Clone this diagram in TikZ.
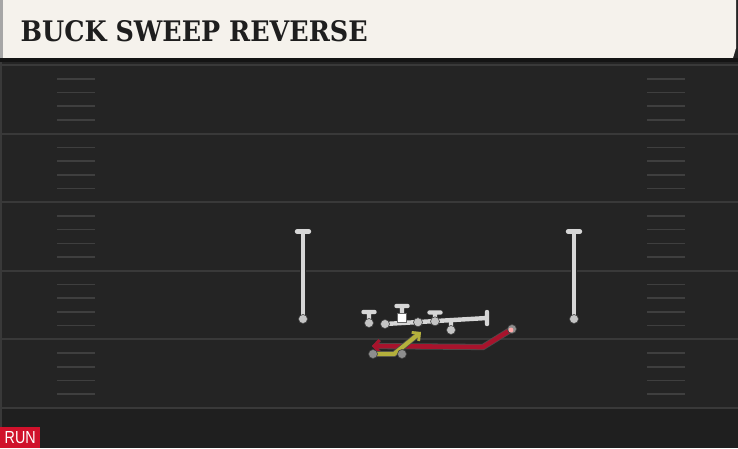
\documentclass[tikz,border=0pt]{standalone}
\usepackage{fontspec}
\usepackage{graphicx}
\usetikzlibrary{arrows.meta}
\newfontfamily\titlefont{DejaVu Serif}
\newfontfamily\runfont{Liberation Sans}
\definecolor{bgc}{HTML}{242424}
\definecolor{bgd}{HTML}{1F1F1F}
\definecolor{fieldline}{HTML}{393939}
\definecolor{hashc}{HTML}{3F3F3F}
\definecolor{cream}{HTML}{F5F2EC}
\definecolor{ink}{HTML}{1E1E1E}
\definecolor{runred}{HTML}{D0112B}
\definecolor{routered}{HTML}{A8132C}
\definecolor{routeyel}{HTML}{B4B03C}
\definecolor{blk}{HTML}{D6D6D6}
\definecolor{pcirc}{HTML}{C4C4C4}
\definecolor{gcirc}{HTML}{8E8E8E}
\pgfdeclarelayer{back}
\pgfdeclarelayer{routes}
\pgfsetlayers{back,routes,main}
\tikzset{
  player/.style={circle, draw=black!75, line width=0.6pt, fill=pcirc, minimum size=9pt, inner sep=0pt},
  gplayer/.style={player, fill=gcirc},
  ctr/.style={rectangle, draw=black!60, line width=0.5pt, fill=white, minimum size=9pt, inner sep=0pt},
  blockline/.style={draw=blk, line width=4.4pt, line cap=round, preaction={draw=black!85, line width=6.4pt, line cap=round}},
  rroute/.style={draw=routered, line width=4.6pt, preaction={draw=black!70, line width=6.2pt}},
  yroute/.style={draw=routeyel, line width=4.2pt, preaction={draw=black!70, line width=5.8pt}},
  hashmark/.style={draw=hashc, line width=1.6pt},
  yard/.style={draw=fieldline, line width=2pt}
}
\begin{document}
\begin{tikzpicture}[x=1pt,y=-1pt]
\useasboundingbox (0,0) rectangle (738,448);
\begin{pgfonlayer}{back}
  \fill[bgc] (0,0) rectangle (738,408);
  \fill[bgd] (0,408) rectangle (738,448);
  \fill[fieldline] (0,60) rectangle (2,448);
  \foreach \y in {65,133.6,202.2,270.8,339.4,408}
    \draw[yard] (0,\y) -- (738,\y);
  \foreach \s in {65,133.6,202.2,270.8,339.4}
    \foreach \k in {1,2,3,4} {
      \draw[hashmark] (57,\s+13.7*\k) -- (95,\s+13.7*\k);
      \draw[hashmark] (647,\s+13.7*\k) -- (685,\s+13.7*\k);
    }
  % header
  \fill[cream] (3,0) -- (736,0) -- (736,48) -- (733,58) -- (3,58) -- cycle;
  \fill[black!35] (0,0) rectangle (3,58);
  \fill[black!92] (0,58) rectangle (738,62);
\end{pgfonlayer}

\node[anchor=south west, inner sep=0pt, text=ink] (title) at (20.5,42.5)
  {\resizebox{347pt}{21pt}{\titlefont\bfseries BUCK SWEEP REVERSE}};

% defenders
\node[player] (dl) at (303,319) {};
\node[player] (dr) at (574,319) {};
\coordinate (dlT) at (303,231.5);
\coordinate (drT) at (574,231.5);

% offense
\node[player] (p1) at (369,323) {};
\coordinate (p1T) at (369,312);
\node[ctr] (c) at (402,318) {};
\coordinate (cT) at (402,306);
\node[player] (p2) at (385,324) {};
\node[player] (p3) at (418,322.2) {};
\node[player] (p4) at (435,321.3) {};
\coordinate (p4T) at (435,312.5);
\node[player] (p5) at (451,330) {};
\coordinate (p5top) at (451,320.3);
\coordinate (eT) at (487,318);

\node[gplayer] (y1) at (373,354) {};
\node[gplayer] (y2) at (402,354) {};
\coordinate (ybend) at (394,354);
\coordinate (yend) at (421,332);

\node[gplayer] (r1) at (512,329) {};
\fill[red!35!white] ([xshift=-1pt,yshift=-1pt]r1.center) circle (2.4pt);
\coordinate (rbend) at (483,347);
\coordinate (rend) at (372,346);

\begin{pgfonlayer}{routes}
  \draw[blockline]
    (dl.center) -- (dlT) ([xshift=-6pt]dlT) -- ([xshift=6pt]dlT)
    (dr.center) -- (drT) ([xshift=-6pt]drT) -- ([xshift=6pt]drT);
  \draw[blockline]
    (p1.center) -- (p1T) ([xshift=-5.5pt]p1T) -- ([xshift=5.5pt]p1T)
    (c.center) -- (cT) ([xshift=-5.5pt]cT) -- ([xshift=5.5pt]cT)
    (p4.center) -- (p4T) ([xshift=-5.5pt]p4T) -- ([xshift=5.5pt]p4T)
    (p5.center) -- (p5top)
    (p2.center) -- (eT) ([yshift=-6pt]eT) -- ([yshift=6pt]eT);
  \draw[rroute, line join=round, -{Straight Barb[length=5.5pt,width=12pt,line width=3pt]}]
    (r1.center) -- (rbend) -- (rend);
  \draw[yroute, line join=round, -{Straight Barb[length=5.5pt,width=11pt,line width=2.8pt]}]
    (y1.center) -- (ybend) -- (yend);
\end{pgfonlayer}

\node[fill=runred, anchor=south west, minimum width=40pt, minimum height=21pt, inner sep=0pt, text=white] (run) at (0,448)
  {\resizebox{31pt}{12pt}{\runfont RUN}};
\end{tikzpicture}
\end{document}
